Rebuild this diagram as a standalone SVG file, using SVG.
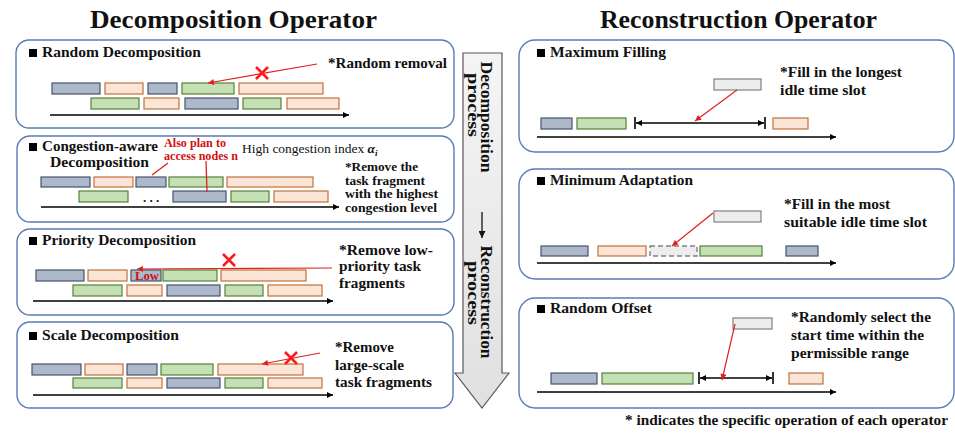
<svg xmlns="http://www.w3.org/2000/svg" width="955" height="437" viewBox="0 0 955 437">
<defs>
<style>
text{font-family:"Liberation Serif","Times New Roman",serif;font-weight:bold;fill:#111}
.h1{font-size:26px}
.h2{font-size:15px}
.t{font-size:14px}
.tr{font-size:12px;fill:#d01010}
.panel{fill:#fff;stroke:#5b7bb5;stroke-width:1.4}
.b{fill:#adb9ca;stroke:#44546a;stroke-width:1.2}
.o{fill:#fbe5d6;stroke:#c0723c;stroke-width:1.2}
.g{fill:#c5e0b4;stroke:#548235;stroke-width:1.2}
.gr{fill:#ededed;stroke:#808080;stroke-width:1.2}
.dash{fill:#ededed;stroke:#808080;stroke-width:1.4;stroke-dasharray:5 3}
.axis{stroke:#000;stroke-width:1.3;fill:none;marker-end:url(#ah)}
.rng{stroke:#000;stroke-width:1.3;fill:none;marker-start:url(#ah);marker-end:url(#ah)}
.tick{stroke:#000;stroke-width:1.6}
.red{stroke:#e02020;stroke-width:1.2;fill:none;marker-end:url(#rh)}
.redl{stroke:#e02020;stroke-width:1.3;fill:none}
.x{stroke:#ff1a1a;stroke-width:2.6;stroke-linecap:butt}
</style>
<marker id="ah" viewBox="0 0 10 10" refX="10" refY="5" markerWidth="7" markerHeight="6" markerUnits="userSpaceOnUse" orient="auto-start-reverse"><path d="M0,0 L10,5 L0,10 z" fill="#000"/></marker>
<marker id="rh" viewBox="0 0 10 10" refX="10" refY="5" markerWidth="7" markerHeight="6" markerUnits="userSpaceOnUse" orient="auto"><path d="M0,0 L10,5 L0,10 z" fill="#e02020"/></marker>
<marker id="bh" viewBox="0 0 10 10" refX="10" refY="5" markerWidth="7" markerHeight="7" markerUnits="userSpaceOnUse" orient="auto"><path d="M0,0 L10,5 L0,10 z" fill="#111"/></marker>
<linearGradient id="flow" x1="0" y1="0" x2="0" y2="1"><stop offset="0" stop-color="#f5f5f5"/><stop offset="1" stop-color="#e0e0e0"/></linearGradient>
</defs>
<rect width="955" height="437" fill="#fff"/>

<text class="h1" x="90" y="28" textLength="287" lengthAdjust="spacingAndGlyphs">Decomposition Operator</text>
<text class="h1" x="600" y="28" textLength="277" lengthAdjust="spacingAndGlyphs">Reconstruction Operator</text>

<g id="random-decomposition">
<rect class="panel" x="16" y="40" width="438" height="88" rx="13"/>
<rect x="29" y="49" width="8" height="8" fill="#000"/>
<text class="h2" x="42" y="57" textLength="159" lengthAdjust="spacingAndGlyphs">Random Decomposition</text>
<text class="t" x="328" y="68" textLength="119" lengthAdjust="spacingAndGlyphs">*Random removal</text>
<rect class="b" x="52" y="83" width="48" height="11"/>
<rect class="o" x="105" y="83" width="38" height="11"/>
<rect class="b" x="148" y="83" width="29" height="11"/>
<rect class="g" x="182" y="83" width="52" height="11"/>
<rect class="o" x="239" y="83" width="84" height="11"/>
<rect class="g" x="91" y="98" width="48" height="11"/>
<rect class="o" x="144" y="98" width="35" height="11"/>
<rect class="b" x="185" y="98" width="53" height="11"/>
<rect class="g" x="243" y="98" width="38" height="11"/>
<rect class="o" x="287" y="98" width="52" height="11"/>
<line class="axis" x1="50" y1="115" x2="349" y2="115"/>
</g>

<g id="congestion-aware-decomposition">
<rect class="panel" x="17" y="136" width="437" height="86" rx="13"/>
<rect x="29" y="143" width="8" height="8" fill="#000"/>
<text class="h2" x="42" y="151" textLength="116" lengthAdjust="spacingAndGlyphs">Congestion-aware</text>
<text class="h2" x="50" y="167" textLength="99" lengthAdjust="spacingAndGlyphs">Decomposition</text>
<text class="tr" x="164" y="147" textLength="62" lengthAdjust="spacingAndGlyphs">Also plan to</text>
<text class="tr" x="164" y="160" textLength="74" lengthAdjust="spacingAndGlyphs">access nodes n</text>
<text x="242" y="153" style="font-size:13.5px;font-weight:normal">High congestion index <tspan style="font-weight:bold;font-style:italic">α</tspan><tspan dy="3" style="font-size:9px;font-weight:bold;font-style:italic">i</tspan></text>
<text class="t" x="345" y="171" textLength="73" lengthAdjust="spacingAndGlyphs" style="font-size:12.5px">*Remove the</text>
<text class="t" x="345" y="184.5" textLength="80" lengthAdjust="spacingAndGlyphs" style="font-size:12.5px">task fragment</text>
<text class="t" x="345" y="198" textLength="93" lengthAdjust="spacingAndGlyphs" style="font-size:12.5px">with the highest</text>
<text class="t" x="345" y="211.5" textLength="92" lengthAdjust="spacingAndGlyphs" style="font-size:12.5px">congestion level</text>
<rect class="b" x="41" y="177" width="49" height="10"/>
<rect class="o" x="94" y="177" width="39" height="10"/>
<rect class="b" x="136" y="177" width="30" height="10"/>
<rect class="g" x="169" y="177" width="54" height="10"/>
<rect class="o" x="227" y="177" width="86" height="10"/>
<rect class="g" x="79" y="191" width="49" height="11"/>
<text x="143" y="202" style="font-size:13px">. . .</text>
<rect class="b" x="173" y="191" width="53" height="11"/>
<rect class="g" x="231" y="191" width="38" height="11"/>
<rect class="o" x="274" y="191" width="54" height="11"/>
<line class="axis" x1="41" y1="207" x2="339" y2="207"/>
</g>

<g id="priority-decomposition">
<rect class="panel" x="17" y="229" width="437" height="86" rx="13"/>
<rect x="29" y="237" width="8" height="8" fill="#000"/>
<text class="h2" x="42" y="245" textLength="154" lengthAdjust="spacingAndGlyphs">Priority Decomposition</text>
<text class="t" x="339" y="255" textLength="94" lengthAdjust="spacingAndGlyphs" style="font-size:15px">*Remove low-</text>
<text class="t" x="339" y="271" textLength="82" lengthAdjust="spacingAndGlyphs" style="font-size:15px">priority task</text>
<text class="t" x="339" y="288" textLength="66" lengthAdjust="spacingAndGlyphs" style="font-size:15px">fragments</text>
<rect class="b" x="36" y="270" width="48" height="11"/>
<rect class="o" x="88" y="270" width="39" height="11"/>
<rect class="b" x="131" y="270" width="30" height="11"/>
<text x="135" y="280" textLength="24" lengthAdjust="spacingAndGlyphs" style="font-size:13px;fill:#d01010">Low</text>
<rect class="g" x="163" y="270" width="54" height="11"/>
<rect class="o" x="221" y="270" width="85" height="11"/>
<rect class="g" x="73" y="285" width="49" height="11"/>
<rect class="o" x="127" y="285" width="35" height="11"/>
<rect class="b" x="167" y="285" width="53" height="11"/>
<rect class="g" x="225" y="285" width="38" height="11"/>
<rect class="o" x="268" y="285" width="54" height="11"/>
<line class="axis" x1="33" y1="301" x2="333" y2="301"/>
</g>

<g id="scale-decomposition">
<rect class="panel" x="17" y="322" width="436" height="86" rx="13"/>
<rect x="29" y="332" width="8" height="8" fill="#000"/>
<text class="h2" x="42" y="340" textLength="137" lengthAdjust="spacingAndGlyphs">Scale Decomposition</text>
<text class="t" x="335" y="352" textLength="59" lengthAdjust="spacingAndGlyphs" style="font-size:15px">*Remove</text>
<text class="t" x="335" y="370" textLength="69" lengthAdjust="spacingAndGlyphs" style="font-size:15px">large-scale</text>
<text class="t" x="335" y="387" textLength="97" lengthAdjust="spacingAndGlyphs" style="font-size:15px">task fragments</text>
<rect class="b" x="32" y="364" width="49" height="11"/>
<rect class="o" x="85" y="364" width="38" height="11"/>
<rect class="b" x="127" y="364" width="30" height="11"/>
<rect class="g" x="161" y="364" width="52" height="11"/>
<rect class="o" x="218" y="364" width="85" height="11"/>
<rect class="g" x="73" y="378" width="49" height="10"/>
<rect class="o" x="127" y="378" width="35" height="10"/>
<rect class="b" x="167" y="378" width="53" height="10"/>
<rect class="g" x="225" y="378" width="38" height="10"/>
<rect class="o" x="268" y="378" width="54" height="10"/>
<line class="axis" x1="33" y1="395" x2="333" y2="395"/>
</g>

<g id="process-arrow">
<polygon points="463,53 502,53 502,373 509,373 482,408 455,373 463,373" fill="url(#flow)" stroke="#595959" stroke-width="1.2"/>
<text transform="translate(481,117) rotate(90)" text-anchor="middle" textLength="111" lengthAdjust="spacingAndGlyphs" style="font-size:17px">Decomposition</text>
<text transform="translate(468,105) rotate(90)" text-anchor="middle" textLength="64" lengthAdjust="spacingAndGlyphs" style="font-size:17px">process</text>
<line x1="482" y1="212" x2="482" y2="238" stroke="#111" stroke-width="1.3" marker-end="url(#bh)"/>
<text transform="translate(481,302) rotate(90)" text-anchor="middle" textLength="113" lengthAdjust="spacingAndGlyphs" style="font-size:17px">Reconstruction</text>
<text transform="translate(468,293) rotate(90)" text-anchor="middle" textLength="64" lengthAdjust="spacingAndGlyphs" style="font-size:17px">process</text>
</g>

<g id="maximum-filling">
<rect class="panel" x="519" y="40" width="435" height="112" rx="16"/>
<rect x="537" y="49" width="8" height="8" fill="#000"/>
<text class="h2" x="550" y="57" textLength="116" lengthAdjust="spacingAndGlyphs">Maximum Filling</text>
<text class="t" x="780" y="77" textLength="122" lengthAdjust="spacingAndGlyphs" style="font-size:15px">*Fill in the longest</text>
<text class="t" x="780" y="95" textLength="86" lengthAdjust="spacingAndGlyphs" style="font-size:15px">idle time slot</text>
<rect class="gr" x="714" y="79" width="47" height="11"/>
<rect class="b" x="541" y="118" width="31" height="11"/>
<rect class="g" x="577" y="118" width="49" height="11"/>
<rect class="o" x="773" y="118" width="35" height="11"/>
<line class="rng" x1="636" y1="123" x2="764" y2="123"/>
<line class="tick" x1="635" y1="117" x2="635" y2="129"/>
<line class="tick" x1="765" y1="117" x2="765" y2="129"/>
<line class="axis" x1="537" y1="137" x2="836" y2="137"/>
</g>

<g id="minimum-adaptation">
<rect class="panel" x="519" y="169" width="435" height="110" rx="16"/>
<rect x="537" y="177" width="8" height="8" fill="#000"/>
<text class="h2" x="550" y="185" textLength="143" lengthAdjust="spacingAndGlyphs">Minimum Adaptation</text>
<text class="t" x="784" y="209" textLength="106" lengthAdjust="spacingAndGlyphs" style="font-size:15px">*Fill in the most</text>
<text class="t" x="784" y="227" textLength="143" lengthAdjust="spacingAndGlyphs" style="font-size:15px">suitable idle time slot</text>
<rect class="gr" x="714" y="211" width="47" height="11"/>
<rect class="b" x="541" y="246" width="47" height="10"/>
<rect class="o" x="598" y="246" width="48" height="10"/>
<rect class="dash" x="650" y="246" width="47" height="10"/>
<rect class="g" x="700" y="246" width="62" height="10"/>
<rect class="b" x="786" y="246" width="32" height="10"/>
<line class="axis" x1="537" y1="263" x2="836" y2="263"/>
</g>

<g id="random-offset">
<rect class="panel" x="519" y="298" width="435" height="110" rx="16"/>
<rect x="537" y="305" width="8" height="8" fill="#000"/>
<text class="h2" x="550" y="313" textLength="102" lengthAdjust="spacingAndGlyphs">Random Offset</text>
<text class="t" x="791" y="322" textLength="140" lengthAdjust="spacingAndGlyphs" style="font-size:15px">*Randomly select the</text>
<text class="t" x="791" y="340" textLength="133" lengthAdjust="spacingAndGlyphs" style="font-size:15px">start time within the</text>
<text class="t" x="791" y="358" textLength="118" lengthAdjust="spacingAndGlyphs" style="font-size:15px">permissible range</text>
<rect class="gr" x="733" y="318" width="39" height="11"/>
<rect class="b" x="551" y="373" width="46" height="11"/>
<rect class="g" x="602" y="373" width="91" height="11"/>
<rect class="o" x="789" y="373" width="34" height="11"/>
<line class="rng" x1="700" y1="378" x2="772" y2="378"/>
<line class="tick" x1="699" y1="372" x2="699" y2="384"/>
<line class="tick" x1="773" y1="372" x2="773" y2="384"/>
<line class="axis" x1="537" y1="392" x2="836" y2="392"/>
</g>

<g id="connectors">
<line class="red" x1="317" y1="64" x2="208" y2="83"/>
<path class="x" d="M256,67 L268,79 M268,67 L256,79"/>
<line class="redl" x1="152" y1="175" x2="168" y2="163"/>
<line class="redl" x1="206" y1="161" x2="207" y2="192"/>
<line class="red" x1="332" y1="268" x2="137" y2="269"/>
<path class="x" d="M223,254 L235,266 M235,254 L223,266"/>
<line class="red" x1="320" y1="353" x2="262" y2="364"/>
<path class="x" d="M285,352 L297,364 M297,352 L285,364"/>
<line class="red" x1="737" y1="90" x2="695" y2="121"/>
<line class="red" x1="713" y1="213" x2="672" y2="246"/>
<line class="red" x1="735" y1="324" x2="722" y2="380"/>
</g>

<text class="t" x="625" y="425" textLength="323" lengthAdjust="spacingAndGlyphs" style="font-size:15px">* indicates the specific operation of each operator</text>
</svg>
